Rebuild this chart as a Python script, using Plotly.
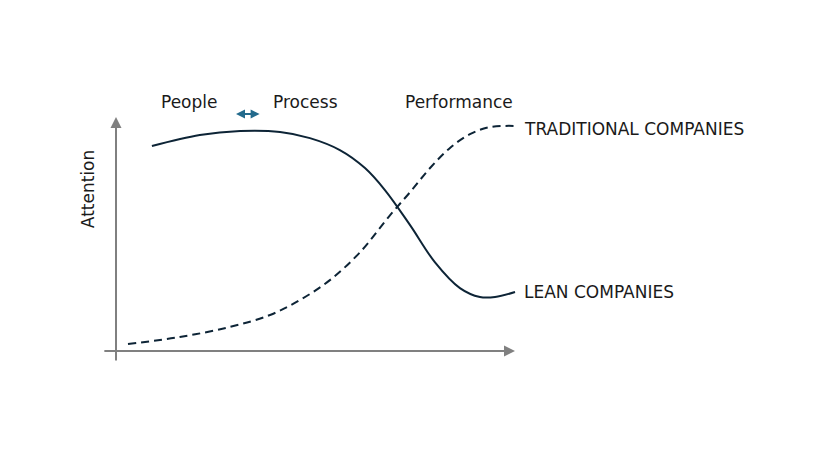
import plotly.graph_objects as go

# Time (arbitrary units) and attention (arbitrary units)
lean_x = [0.90, 2.10, 3.11, 4.11, 4.86, 5.61, 6.24, 6.74, 7.37, 7.99, 8.62, 9.12, 9.50, 10.0]
lean_y = [8.76, 9.23, 9.40, 9.36, 9.10, 8.59, 7.82, 6.88, 5.38, 3.80, 2.69, 2.31, 2.31, 2.52]

trad_x = [0.30, 1.60, 2.86, 3.86, 4.61, 5.36, 6.12, 6.87, 7.37, 7.87, 8.37, 8.87, 9.37, 10.0]
trad_y = [0.30, 0.60, 1.03, 1.54, 2.18, 3.03, 4.23, 5.81, 6.79, 7.82, 8.68, 9.27, 9.57, 9.62]

series_names = ["TRADITIONAL COMPANIES", "LEAN COMPANIES"]
phases = ["People", "Process", "Performance"]
phase_x = [1.83, 4.74, 8.60]
y_label = "Attention"

LINE = "#0d2436"
GREY = "#808080"
TXT = "#1a1a1a"
FONT = "DejaVu Sans"
FS = 17

fig = go.Figure()
fig.add_trace(go.Scatter(x=trad_x, y=trad_y, mode="lines", line=dict(color=LINE, width=2, dash="8px,5px", shape="spline", smoothing=1.0), hoverinfo="skip"))
fig.add_trace(go.Scatter(x=lean_x, y=lean_y, mode="lines", line=dict(color=LINE, width=2, shape="spline", smoothing=1.0), hoverinfo="skip"))

ann = []
# axes arrows
ann.append(dict(x=10.0, y=0, ax=-0.33, ay=0, xref="x", yref="y", axref="x", ayref="y", showarrow=True,
                arrowhead=2, arrowsize=1.1, arrowwidth=2, arrowcolor=GREY, text=""))
ann.append(dict(x=0, y=10.0, ax=0, ay=-0.47, xref="x", yref="y", axref="x", ayref="y", showarrow=True,
                arrowhead=2, arrowsize=1.1, arrowwidth=2, arrowcolor=GREY, text=""))
# double arrow
ann.append(dict(x=3.60, y=10.13, ax=2.97, ay=10.13, xref="x", yref="y", axref="x", ayref="y", showarrow=True,
                arrowhead=2, arrowside="end+start", arrowsize=0.9, arrowwidth=2, arrowcolor="#236a8c", text=""))
for p, px in zip(phases, phase_x):
    ann.append(dict(x=px, y=10.64, xref="x", yref="y", text=p, showarrow=False,
                    font=dict(family=FONT, size=FS, color=TXT), xanchor="center", yanchor="middle"))
ann.append(dict(x=-0.70, y=6.92, xref="x", yref="y", text=y_label, showarrow=False, textangle=-90,
                font=dict(family=FONT, size=FS, color=TXT), xanchor="center", yanchor="middle"))
ann.append(dict(x=trad_x[-1], y=trad_y[-1], xref="x", yref="y", text=series_names[0], showarrow=False,
                xanchor="left", yanchor="middle", xshift=7, yshift=-3,
                font=dict(family=FONT, size=FS, color=TXT)))
ann.append(dict(x=lean_x[-1], y=lean_y[-1], xref="x", yref="y", text=series_names[1], showarrow=False,
                xanchor="left", yanchor="middle", xshift=7, yshift=0,
                font=dict(family=FONT, size=FS, color=TXT)))

fig.update_layout(
    width=835, height=459,
    margin=dict(l=0, r=0, t=0, b=0),
    paper_bgcolor="white", plot_bgcolor="white",
    showlegend=False,
    xaxis=dict(range=[-2.707, 18.22], visible=False, fixedrange=True),
    yaxis=dict(range=[-4.957, 14.66], visible=False, fixedrange=True),
    annotations=ann,
)
fig.write_html("out.html")
